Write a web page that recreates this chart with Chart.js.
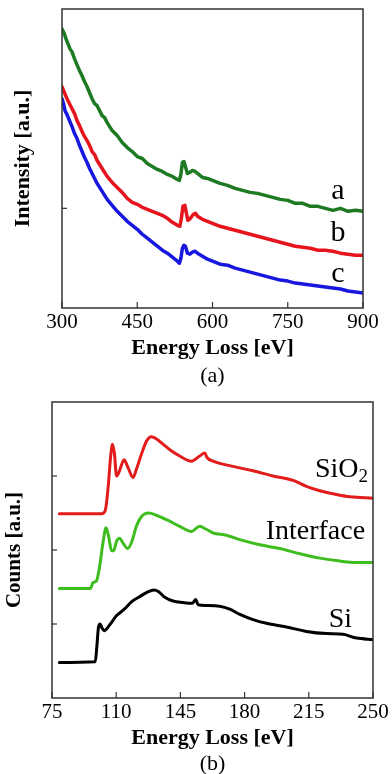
<!DOCTYPE html>
<html>
<head>
<meta charset="utf-8">
<script src="https://cdn.jsdelivr.net/npm/chart.js@4.4.1/dist/chart.umd.min.js"></script>
<style>
  html, body { margin: 0; padding: 0; background: #fff; }
  #wrap { position: relative; width: 392px; height: 774px; overflow: hidden; }
  canvas { position: absolute; left: 0; }
  #cA { top: 0; }
  #cB { top: 390px; }
  .cap { position: absolute; left: 0; width: 425px; text-align: center;
         font-family: 'Liberation Serif', 'Times New Roman', serif; font-size: 22px; color: #000; line-height: 26px; }
</style>
</head>
<body>
<div id="wrap">
  <canvas id="cA" width="392" height="390"></canvas>
  <canvas id="cB" width="392" height="384"></canvas>
  <div class="cap" style="top:362px;">(a)</div>
  <div class="cap" style="top:750px;">(b)</div>
</div>
<script>
// ---------- Panel (a) data ----------
const energyA = [300,304,308,312,316,320,325,330,335,340,345,350,355,360,365,370,375,380,385,390,400,410,420,430,440,450,460,470,480,490,500,510,520,530,534,537,540,543,546,550,555,560,565,570,580,590,600,615,630,645,660,675,690,705,720,735,750,765,780,795,810,825,840,855,870,885,900];
const intensityA = [2.80,2.76,2.70,2.65,2.60,2.57,2.50,2.44,2.38,2.33,2.27,2.22,2.16,2.10,2.05,2.03,1.98,1.93,1.91,1.86,1.78,1.73,1.66,1.61,1.57,1.52,1.50,1.45,1.42,1.39,1.37,1.34,1.32,1.29,1.28,1.34,1.46,1.47,1.42,1.35,1.36,1.38,1.37,1.35,1.31,1.30,1.28,1.25,1.23,1.20,1.18,1.16,1.15,1.13,1.11,1.09,1.08,1.05,1.05,1.02,1.02,1.00,0.98,1.00,0.97,0.98,0.97];

const energyB = [300,305,310,315,320,325,330,335,340,345,350,355,360,365,370,375,380,385,390,395,400,410,420,430,440,450,460,470,480,490,500,510,520,530,535,538,541,545,548,551,556,562,566,570,580,590,600,615,630,645,660,675,690,705,720,735,750,765,780,795,810,825,840,855,870,885,900];
const intensityB = [2.22,2.16,2.10,2.05,2.00,1.95,1.88,1.83,1.77,1.72,1.68,1.63,1.57,1.54,1.48,1.44,1.40,1.36,1.32,1.29,1.26,1.21,1.16,1.10,1.06,1.04,1.01,0.99,0.97,0.95,0.93,0.90,0.86,0.83,0.82,0.90,1.02,1.03,0.95,0.88,0.90,0.94,0.95,0.92,0.89,0.87,0.85,0.82,0.80,0.78,0.76,0.74,0.72,0.70,0.68,0.66,0.64,0.62,0.61,0.60,0.58,0.58,0.57,0.55,0.54,0.53,0.53];

const energyC = [300,303,306,310,315,320,325,330,335,340,345,350,355,360,365,370,375,380,385,390,400,410,420,430,440,450,460,470,480,490,500,510,520,530,534,537,540,543,546,550,555,560,565,570,580,590,600,615,630,645,660,675,690,705,720,735,750,765,780,795,810,825,840,855,870,885,900];
const intensityC = [2.10,2.05,1.98,1.94,1.88,1.82,1.75,1.70,1.63,1.57,1.51,1.46,1.40,1.35,1.30,1.25,1.21,1.17,1.13,1.09,1.03,0.97,0.92,0.87,0.83,0.79,0.74,0.70,0.66,0.62,0.58,0.55,0.51,0.47,0.45,0.50,0.60,0.63,0.62,0.55,0.54,0.56,0.57,0.55,0.52,0.49,0.47,0.44,0.43,0.40,0.38,0.36,0.34,0.32,0.30,0.28,0.27,0.25,0.24,0.23,0.22,0.21,0.20,0.19,0.17,0.16,0.15];

const ticksA = [300,450,600,750,900];
const labelsA = ['a','b','c'];

// ---------- Panel (b) data ----------
const energySiO2 = [79,102,104,105.5,107,108,109,110.2,111.8,114.3,116.5,119.2,121,123.7,126.5,129.2,132,135.5,140,144.6,151,155.5,158.3,159.5,162.8,173.7,184.6,195.5,206.5,213.7,221,228.3,237.4,250];
const countsSiO2 = [2.49,2.49,2.53,2.82,3.27,3.43,3.31,3.00,3.07,3.22,3.11,2.98,3.09,3.29,3.47,3.53,3.50,3.43,3.34,3.27,3.20,3.27,3.31,3.25,3.20,3.13,3.07,3.00,2.94,2.86,2.80,2.76,2.72,2.70];

const energyInterface = [79,95.9,97.4,99.2,101,102.8,104.5,105.8,107.5,108.6,110.2,111.8,113.8,116.3,118.6,121,123.7,127.8,131.9,137.4,144.6,151,155.5,159.1,162.8,170.1,177.4,188.3,199.2,210.1,221,231.9,241,250];
const countsInterface = [1.48,1.48,1.56,1.58,1.78,2.10,2.30,2.19,1.99,1.99,2.12,2.16,2.09,2.02,2.12,2.32,2.45,2.50,2.47,2.41,2.32,2.25,2.32,2.28,2.23,2.20,2.14,2.07,2.02,1.95,1.89,1.85,1.83,1.83];

const energySi = [79,98.6,99.4,100.3,101.2,102.2,103.4,106.5,110.1,114.4,118.3,123.5,127,130.5,133,136.5,141,146.5,151.5,153.3,154.7,159.1,166.4,171.9,177.4,184.6,191.9,202.8,213.7,224.6,233.7,241,250];
const countsSi = [0.48,0.49,0.68,0.95,1.00,0.95,0.91,0.99,1.11,1.20,1.30,1.38,1.43,1.46,1.44,1.36,1.31,1.29,1.28,1.33,1.26,1.25,1.24,1.20,1.13,1.06,1.01,0.96,0.90,0.87,0.86,0.81,0.79];

const ticksB = [75,110,145,180,215,250];
const labelsB = ['SiO', 'Interface', 'Si'];

// ---------- helpers ----------
const SERIF = "'Liberation Serif', 'Times New Roman', serif";
const pts = (xs, ys) => xs.map((x, i) => ({x, y: ys[i]}));

const framePlugin = {
  id: 'frame',
  afterDatasetsDraw(chart) {
    const {ctx, chartArea: a, scales} = chart;
    ctx.save();
    ctx.strokeStyle = '#333';
    ctx.lineWidth = 1.5;
    ctx.strokeRect(a.left, a.top, a.right - a.left, a.bottom - a.top);
    ctx.lineWidth = 1.2;
    scales.x.ticks.forEach(t => {
      const px = scales.x.getPixelForValue(t.value);
      ctx.beginPath(); ctx.moveTo(px, a.bottom); ctx.lineTo(px, a.bottom - 6); ctx.stroke();
    });
    scales.y.ticks.forEach(t => {
      const py = scales.y.getPixelForValue(t.value);
      ctx.beginPath(); ctx.moveTo(a.left, py); ctx.lineTo(a.left + 5, py); ctx.stroke();
    });
    ctx.restore();
  }
};

const labelPlugin = {
  id: 'seriesLabels',
  afterDatasetsDraw(chart, args, opts) {
    const {ctx, scales} = chart;
    ctx.save();
    ctx.fillStyle = '#000';
    ctx.textBaseline = 'alphabetic';
    (opts.items || []).forEach(it => {
      const px = scales.x.getPixelForValue(it.x);
      const py = scales.y.getPixelForValue(it.y);
      ctx.font = it.size + 'px ' + SERIF;
      ctx.textAlign = it.align;
      if (it.sub) {
        ctx.font = Math.round(it.size * 0.68) + 'px ' + SERIF;
        const sw = ctx.measureText(it.sub).width;
        ctx.textAlign = 'right';
        ctx.fillText(it.sub, px, py + it.size * 0.18);
        ctx.font = it.size + 'px ' + SERIF;
        ctx.fillText(it.text, px - sw, py);
      } else {
        ctx.fillText(it.text, px, py);
      }
    });
    ctx.restore();
  }
};

function makeOptions(cfg) {
  return {
    responsive: false,
    animation: false,
    devicePixelRatio: 1,
    layout: { padding: { top: cfg.padTop, right: cfg.padRight, left: 0, bottom: cfg.padBottom } },
    plugins: {
      legend: { display: false },
      tooltip: { enabled: false },
      seriesLabels: { items: cfg.labels }
    },
    elements: { point: { radius: 0 } },
    scales: {
      x: {
        type: 'linear', min: cfg.xmin, max: cfg.xmax,
        grid: { display: false, drawTicks: false },
        border: { display: false },
        afterBuildTicks: s => { s.ticks = cfg.xticks.map(v => ({value: v})); },
        afterFit: s => { s.height = 54; },
        ticks: { font: { family: SERIF, size: 21 }, color: '#000', padding: 2, maxRotation: 0, autoSkip: false },
        title: { display: true, text: 'Energy Loss [eV]', color: '#000',
                 font: { family: SERIF, size: 22, weight: 'bold', lineHeight: 1.2 }, padding: { top: 0, bottom: 0 } }
      },
      y: {
        type: 'linear', min: 0, max: cfg.ymax,
        grid: { display: false, drawTicks: false },
        border: { display: false },
        afterBuildTicks: s => { s.ticks = cfg.yticks.map(v => ({value: v})); },
        afterFit: s => { s.width = cfg.yWidth; },
        ticks: { display: false },
        title: { display: true, text: cfg.ytitle, color: '#000',
                 font: { family: SERIF, size: cfg.ytitleSize, weight: 'bold', lineHeight: 1.2 }, padding: { top: cfg.ytitlePad, bottom: 0 } }
      }
    }
  };
}

const ds = (xs, ys, color, w, smooth) => ({
  data: pts(xs, ys), borderColor: color, borderWidth: w, fill: false,
  tension: 0, cubicInterpolationMode: smooth ? 'monotone' : 'default', borderJoinStyle: 'round', borderCapStyle: 'round'
});

new Chart(document.getElementById('cA'), {
  type: 'line',
  data: { datasets: [
    ds(energyA, intensityA, '#1e7a22', 3.5, false),
    ds(energyB, intensityB, '#e6141c', 3.5, false),
    ds(energyC, intensityC, '#1717e0', 3.5, false)
  ]},
  options: makeOptions({
    padTop: 9, padRight: 29, padBottom: 28, yWidth: 62,
    xmin: 300, xmax: 900, xticks: ticksA, ymax: 3, yticks: [1],
    ytitle: 'Intensity [a.u.]', ytitleSize: 22, ytitlePad: 10,
    labels: [
      { text: labelsA[0], x: 850, y: 1.095, size: 30, align: 'center' },
      { text: labelsA[1], x: 850, y: 0.67, size: 30, align: 'center' },
      { text: labelsA[2], x: 850, y: 0.26, size: 30, align: 'center' }
    ]
  }),
  plugins: [framePlugin, labelPlugin]
});

new Chart(document.getElementById('cB'), {
  type: 'line',
  data: { datasets: [
    ds(energySiO2, countsSiO2, '#e21b1b', 3, true),
    ds(energyInterface, countsInterface, '#3dbd1e', 3, true),
    ds(energySi, countsSi, '#000000', 3, true)
  ]},
  options: makeOptions({
    padTop: 12, padRight: 19, padBottom: 22, yWidth: 52,
    xmin: 75, xmax: 250, xticks: ticksB, ymax: 4, yticks: [1, 2, 3],
    ytitle: 'Counts [a.u.]', ytitleSize: 21, ytitlePad: 2,
    labels: [
      { text: labelsB[0], sub: '2', x: 247.3, y: 2.99, size: 28, align: 'right' },
      { text: labelsB[1], x: 245.7, y: 2.15, size: 28, align: 'right' },
      { text: labelsB[2], x: 238.6, y: 0.96, size: 28, align: 'right' }
    ]
  }),
  plugins: [framePlugin, labelPlugin]
});
</script>
</body>
</html>
